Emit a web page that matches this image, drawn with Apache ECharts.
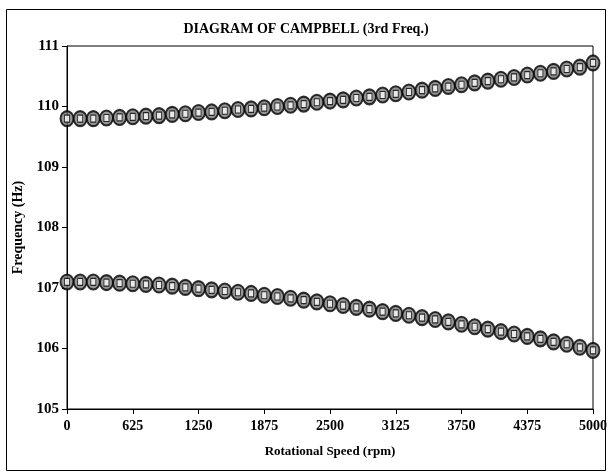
<!DOCTYPE html>
<html><head><meta charset="utf-8">
<script src="https://cdn.jsdelivr.net/npm/echarts@6/dist/echarts.min.js"></script>
<style>html,body{margin:0;padding:0;background:#fff}#c{width:612px;height:474px}</style>
</head><body><div id="c"></div>
<script>
const speeds = [0,125,250,375,500,625,750,875,1000,1125,1250,1375,1500,1625,1750,1875,2000,2125,2250,2375,2500,2625,2750,2875,3000,3125,3250,3375,3500,3625,3750,3875,4000,4125,4250,4375,4500,4625,4750,4875,5000];
const upperFreq = [109.80,109.80,109.80,109.81,109.82,109.83,109.84,109.85,109.87,109.88,109.90,109.91,109.93,109.95,109.96,109.98,110.00,110.02,110.04,110.07,110.09,110.11,110.14,110.16,110.19,110.21,110.24,110.27,110.30,110.33,110.36,110.39,110.42,110.45,110.48,110.52,110.55,110.58,110.62,110.65,110.72];
const lowerFreq = [107.10,107.10,107.10,107.09,107.08,107.07,107.06,107.05,107.03,107.01,106.99,106.97,106.95,106.93,106.91,106.88,106.86,106.83,106.80,106.77,106.74,106.71,106.68,106.65,106.61,106.58,106.55,106.51,106.48,106.44,106.40,106.36,106.32,106.28,106.24,106.20,106.16,106.11,106.07,106.02,105.97];
const titleText = 'DIAGRAM OF CAMPBELL (3rd Freq.)';
const xName = 'Rotational Speed (rpm)';
const yName = 'Frequency (Hz)';

const font = 'Liberation Serif';
const chart = echarts.init(document.getElementById('c'), null, {renderer:'canvas'});
function pts(ys){ return speeds.map((s,i)=>[s, ys[i]]); }
function mk(name, ys){
  return [{
    name, type:'scatter', data: pts(ys), symbol:'circle', symbolSize:[13,15],
    itemStyle:{color:'#7a7a7a', borderColor:'#000', borderWidth:2}, z:3
  },{
    name:name+'i', type:'scatter', data: pts(ys), symbol:'rect', symbolSize:[5,7],
    itemStyle:{color:'#fff', borderColor:'#000', borderWidth:1}, z:4
  }];
}
chart.setOption({
  animation:false,
  graphic:[{type:'rect', shape:{x:6.5,y:9.5,width:599,height:461}, style:{fill:null, stroke:'#000', lineWidth:1}, silent:true}],
  title:{text:titleText, left:'center', top:17, textStyle:{fontFamily:font, fontWeight:'bold', fontSize:14, color:'#000'}},
  grid:{left:67, right:19, top:46, bottom:65, show:true, borderColor:'#000', borderWidth:1},
  xAxis:{type:'value', min:0, max:5000, interval:625,
    name:xName, nameLocation:'middle', nameGap:36,
    nameTextStyle:{fontFamily:font, fontWeight:'bold', fontSize:13, color:'#000'},
    axisLine:{lineStyle:{color:'#000', width:1}}, axisTick:{inside:false, length:5, lineStyle:{color:'#000'}},
    axisLabel:{fontFamily:font, fontWeight:'bold', fontSize:14, color:'#000', margin:10, formatter:v=>String(v)},
    splitLine:{show:false}},
  yAxis:{type:'value', min:105, max:111, interval:1,
    name:yName, nameLocation:'middle', nameGap:30,
    nameTextStyle:{fontFamily:font, fontWeight:'bold', fontSize:14, color:'#000'},
    axisLine:{show:true, lineStyle:{color:'#000', width:1}}, axisTick:{show:true, length:5, lineStyle:{color:'#000'}},
    axisLabel:{fontFamily:font, fontWeight:'bold', fontSize:15, color:'#000', margin:8},
    splitLine:{show:false}},
  series:[...mk('upper', upperFreq), ...mk('lower', lowerFreq)]
});
</script></body></html>
